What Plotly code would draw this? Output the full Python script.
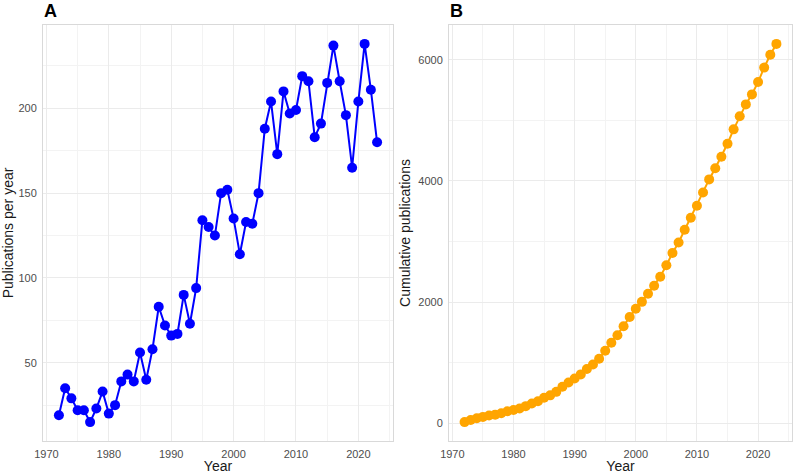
import plotly.graph_objects as go

years = list(range(1972, 2024))
per_year = [19, 35, 29, 22, 22, 15, 23, 33, 20, 25,
            39, 43, 39, 56, 40, 58, 83, 72, 66, 67,
            90, 73, 94, 134, 130, 125, 150, 152, 135, 114,
            133, 132, 150, 188, 204, 173, 210, 197, 199, 219,
            216, 183, 191, 215, 237, 216, 196, 165, 204, 238,
            211, 180]
cumulative = [19, 54, 83, 105, 127, 142, 165, 198, 218, 243,
              282, 325, 364, 420, 460, 518, 601, 673, 739, 806,
              896, 969, 1063, 1197, 1327, 1452, 1602, 1754, 1889, 2003,
              2136, 2268, 2418, 2606, 2810, 2983, 3193, 3390, 3589, 3808,
              4024, 4207, 4398, 4613, 4850, 5066, 5262, 5427, 5631, 5869,
              6080, 6260]
x_ticks = [1970, 1980, 1990, 2000, 2010, 2020]
yA_ticks = [50, 100, 150, 200]
yB_ticks = [0, 2000, 4000, 6000]

def expand(lo, hi, f=0.05):
    d = (hi - lo) * f
    return [lo - d, hi + d]

fig = go.Figure()
fig.add_trace(go.Scatter(x=years, y=per_year, mode="lines+markers",
                         line=dict(color="#0000FF", width=2),
                         marker=dict(color="#0000FF", size=10),
                         xaxis="x", yaxis="y", showlegend=False))
fig.add_trace(go.Scatter(x=years, y=cumulative, mode="lines+markers",
                         line=dict(color="#FFA500", width=2),
                         marker=dict(color="#FFA500", size=10),
                         xaxis="x2", yaxis="y2", showlegend=False))

grid = "#EBEBEB"
minor_grid = "#F3F3F3"
border = "#D9D9D9"
tickfont = dict(family="Liberation Sans, Arial, sans-serif", size=11, color="#4D4D4D")
titlefont = dict(family="Liberation Sans, Arial, sans-serif", size=14, color="#1A1A1A")

common = dict(showgrid=True, gridcolor=grid, gridwidth=1, zeroline=False,
              showline=True, linecolor=border, linewidth=1, mirror=True,
              ticks="outside", ticklen=3, tickcolor="rgba(0,0,0,0)",
              tickfont=tickfont, title_font=titlefont, automargin=False)

FW, FH = 798, 474
L, R, T, B = 43, 6, 25, 33
W = FW - L - R
H = FH - T - B

def px_x(px):
    return (px - L) / W

def px_y(py):
    return (FH - B - py) / H

fig.update_layout(
    width=FW, height=FH,
    margin=dict(l=L, r=R, t=T, b=B),
    paper_bgcolor="white", plot_bgcolor="white",
    xaxis=dict(domain=[0, px_x(393)], range=expand(1972, 2023), tickvals=x_ticks,
               minor=dict(dtick=5, tick0=1965, showgrid=True, gridcolor=minor_grid),
               anchor="y", title=dict(text="Year", standoff=3), **common),
    yaxis=dict(domain=[0, 1], range=expand(min(per_year), max(per_year)), tickvals=yA_ticks,
               minor=dict(dtick=25, tick0=0, showgrid=True, gridcolor=minor_grid),
               anchor="x", title=dict(text="Publications per year", standoff=4), **common),
    xaxis2=dict(domain=[px_x(449), 1], range=expand(1972, 2023), tickvals=x_ticks,
                minor=dict(dtick=5, tick0=1965, showgrid=True, gridcolor=minor_grid),
                anchor="y2", title=dict(text="Year", standoff=3), **common),
    yaxis2=dict(domain=[0, 1], range=expand(min(cumulative), max(cumulative)), tickvals=yB_ticks,
                minor=dict(dtick=1000, tick0=0, showgrid=True, gridcolor=minor_grid),
                anchor="x2", title=dict(text="Cumulative publications", standoff=4), **common),
    annotations=[
        dict(text="<b>A</b>", x=px_x(42), y=px_y(11), xref="paper", yref="paper",
             xanchor="left", yanchor="middle", showarrow=False,
             font=dict(family="Liberation Sans, Arial, sans-serif", size=18, color="black")),
        dict(text="<b>B</b>", x=px_x(448), y=px_y(11), xref="paper", yref="paper",
             xanchor="left", yanchor="middle", showarrow=False,
             font=dict(family="Liberation Sans, Arial, sans-serif", size=18, color="black")),
    ],
)
fig.write_html("out.html", config={"displayModeBar": False},
               post_script="document.body.style.margin='0';document.body.style.overflow='hidden';")
